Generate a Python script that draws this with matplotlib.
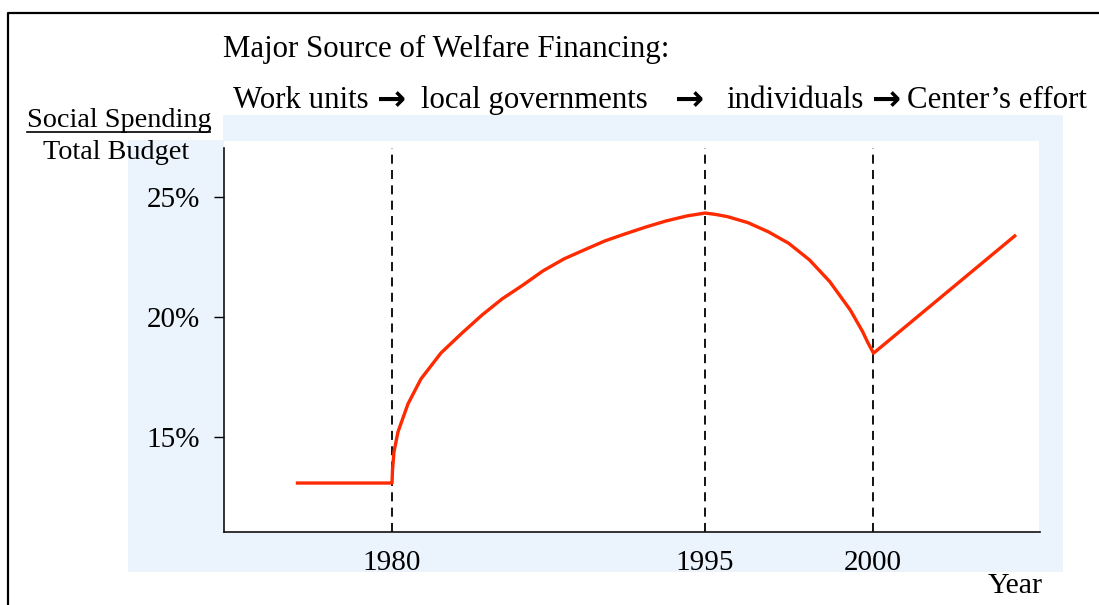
"""
plot.py
Schematic: social spending as share of total budget, with the shifts in welfare financing.
"""

import matplotlib
matplotlib.use("Agg")
import matplotlib.pyplot as plt
from matplotlib.patches import Rectangle
from matplotlib.lines import Line2D

# schematic x axis: 0 = left spine, 100 = right end of the axis (not linear in years)
year_labels = ["1980", "1995", "2000"]
year_pos    = [20.6, 58.9, 79.5]

# red curve (x position, % of total budget)
curve_x = [8.8, 20.59, 20.65, 20.83, 21.32, 22.55, 24.14, 26.59, 29.17, 31.62, 34.07,
           36.64, 39.09, 41.67, 44.12, 46.69, 49.14, 51.72, 54.17, 56.74, 58.95,
           60.29, 61.7, 64.2, 66.7, 69.2, 71.74, 74.24, 76.75, 78.26, 78.92, 79.6,
           97.06]
curve_y = [13.08, 13.08, 13.62, 14.38, 15.21, 16.38, 17.42, 18.5, 19.33, 20.08, 20.75,
           21.33, 21.92, 22.42, 22.79, 23.17, 23.46, 23.75, 24.0, 24.21, 24.33,
           24.27, 24.18, 23.93, 23.55, 23.07, 22.38, 21.47, 20.29, 19.39, 18.92, 18.49,
           23.42]

y_ticks  = [15, 20, 25]
y_labels = ["15%", "20%", "25%"]

header = "Major Source of Welfare Financing:"
stages = ["Work units", "local governments", "individuals", "Center\u2019s effort"]

RED   = "#FF2A00"
BLUE  = "#EBF3FD"
SERIF = ["Liberation Serif", "DejaVu Serif"]

W, H = 1099, 605
plt.rcParams["font.family"] = SERIF

fig = plt.figure(figsize=(W / 100, H / 100), dpi=100, facecolor="white")


def fx(px):
    return px / W


def fy(py):
    return 1 - py / H


# light blue panel behind the axes (notched where "Social Spending" sits)
fig.patches.append(Rectangle((fx(223), fy(572)), fx(1063 - 223), (572 - 115) / H,
                             transform=fig.transFigure, facecolor=BLUE, edgecolor="none", zorder=-2))
fig.patches.append(Rectangle((fx(128), fy(572)), fx(223 - 128), (572 - 140) / H,
                             transform=fig.transFigure, facecolor=BLUE, edgecolor="none", zorder=-2))
# white plot area
fig.patches.append(Rectangle((fx(224), fy(532)), fx(1039 - 224), (532 - 141) / H,
                             transform=fig.transFigure, facecolor="white", edgecolor="none", zorder=-1))

# outer frame (top + left visible)
fig.lines.append(Line2D([fx(8), fx(8), fx(1099)], [0, fy(13), fy(13)],
                        transform=fig.transFigure, color="black", lw=1.6))

ax = fig.add_axes([fx(224), fy(532), fx(1040 - 224), (532 - 148) / H])
ax.patch.set_alpha(0)
ax.set_xlim(0, 100)
ax.set_ylim(11.04, 27.04)

for sp in ["top", "right"]:
    ax.spines[sp].set_visible(False)
for sp in ["left", "bottom"]:
    ax.spines[sp].set_linewidth(1.2)
    ax.spines[sp].set_color("#111111")

for xp in year_pos:
    ax.axvline(xp, color="black", lw=1.3, linestyle=(0, (5, 3.5)), zorder=1)

ax.plot(curve_x, curve_y, color=RED, lw=2.4, solid_capstyle="butt",
        solid_joinstyle="round", zorder=3)

ax.set_yticks(y_ticks)
ax.set_yticklabels(y_labels)
ax.tick_params(axis="y", direction="out", length=7, width=1, pad=10, labelsize=21)
ax.set_xticks(year_pos)
ax.set_xticklabels(year_labels)
ax.tick_params(axis="x", length=0, pad=13, labelsize=21)

# header text
fig.text(fx(223), fy(57), header, fontsize=22.2, ha="left", va="baseline")

stage_x = [233, 421, 726, 907]
arrow_x = [376, 674, 871]
for s, x in zip(stages, stage_x):
    fig.text(fx(x), fy(108), s, fontsize=22.2, ha="left", va="baseline")
for x in arrow_x:
    fig.text(fx(x), fy(110), "\u2192", fontsize=25, fontweight="bold",
             family=["DejaVu Sans"], ha="left", va="baseline")

# y axis title (fraction)
fig.text(fx(27), fy(127), "Social Spending", fontsize=20.3, ha="left", va="baseline")
fig.lines.append(Line2D([fx(27), fx(210)], [fy(132), fy(132)],
                        transform=fig.transFigure, color="black", lw=1.2))
fig.text(fx(43), fy(159), "Total Budget", fontsize=20.3, ha="left", va="baseline")

fig.text(fx(988), fy(593), "Year", fontsize=21.5, ha="left", va="baseline")

fig.savefig("out.png", dpi=100, facecolor="white")
